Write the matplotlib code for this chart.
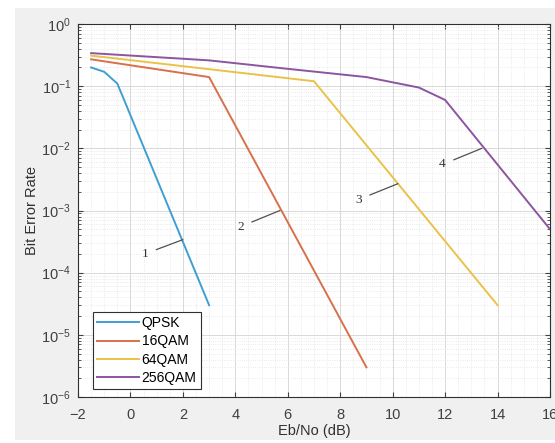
import matplotlib
matplotlib.use('Agg')
import matplotlib.pyplot as plt
from matplotlib.patches import Rectangle
from matplotlib.ticker import LogLocator, NullFormatter, MultipleLocator

# Data (Eb/No in dB, BER)
qpsk_x = [-1.5, -1.0, -0.5, 3.0]
qpsk_y = [0.20, 0.17, 0.11, 3e-5]

qam16_x = [-1.5, 3.0, 9.0]
qam16_y = [0.27, 0.14, 3e-6]

qam64_x = [-1.5, 7.0, 14.0]
qam64_y = [0.31, 0.12, 3e-5]

qam256_x = [-1.5, 3.0, 6.0, 9.0, 11.0, 12.0, 16.0]
qam256_y = [0.34, 0.26, 0.19, 0.14, 0.095, 0.06, 5e-4]

names = ['QPSK', '16QAM', '64QAM', '256QAM']
colors = ['#3f9fd3', '#d8704c', '#eac24a', '#8c55a0']

# curve labels: text, text position, point on curve
labels = ['1', '2', '3', '4']
label_text_xy = [(0.55, 2.0e-4), (4.2, 5.5e-4), (8.7, 1.5e-3), (11.9, 5.5e-3)]
label_curve_xy = [(2.0, 3.4e-4), (5.7, 1.0e-3), (10.2, 2.7e-3), (13.4, 1.0e-2)]

plt.rcParams['font.family'] = ['Liberation Sans', 'DejaVu Sans']

fig = plt.figure(figsize=(5.55, 4.43), dpi=100)
fig.patch.set_facecolor('white')
fig.patches.append(Rectangle((15 / 555, 3 / 443), 1.0, 432 / 443, transform=fig.transFigure,
                             facecolor='#f0f0f0', edgecolor='none', zorder=-10))

ax = fig.add_axes([78 / 555, 1 - 397 / 443, 472 / 555, 373 / 443])
ax.set_facecolor('white')

series = [(qpsk_x, qpsk_y), (qam16_x, qam16_y), (qam64_x, qam64_y), (qam256_x, qam256_y)]
for (xs, ys), name, c in zip(series, names, colors):
    ax.semilogy(xs, ys, color=c, linewidth=1.4, label=name)

for lab, txy, cxy in zip(labels, label_text_xy, label_curve_xy):
    ax.annotate(lab, xy=cxy, xytext=txy, fontsize=9.5, family='Liberation Serif',
                color='#333333', ha='center', va='center',
                arrowprops=dict(arrowstyle='-', color='#505050', lw=0.9,
                                shrinkA=4, shrinkB=0))

ax.set_xlim(-2, 16)
ax.set_ylim(1e-6, 1)
ax.xaxis.set_major_locator(MultipleLocator(2))
ax.yaxis.set_major_locator(LogLocator(base=10, numticks=10))
ax.yaxis.set_minor_locator(LogLocator(base=10, subs=range(2, 10), numticks=20))
ax.yaxis.set_minor_formatter(NullFormatter())
ax.xaxis.set_minor_locator(MultipleLocator(0.5))

ax.grid(True, which='major', color='#d9d9d9', linewidth=0.7)
ax.grid(True, which='minor', color='#e3e3e3', linewidth=0.6, linestyle=':')
ax.tick_params(which='both', direction='in', top=True, right=True, labelsize=10.5, colors='#404040')
ax.tick_params(axis='x', which='major', pad=8)
ax.tick_params(axis='y', which='major', pad=5)
ax.tick_params(which='minor', length=2)
ax.tick_params(axis='x', which='minor', length=0)
for s in ax.spines.values():
    s.set_color('#303030')
    s.set_linewidth(0.8)

ax.set_xlabel('Eb/No (dB)', fontsize=10.5, labelpad=1, color='#303030')
ax.set_ylabel('Bit Error Rate', fontsize=10.5, labelpad=2, color='#303030')

leg = ax.legend(loc='lower left', bbox_to_anchor=(15 / 472, 8 / 373), fontsize=10,
                fancybox=False, framealpha=1, edgecolor='#303030', handlelength=3.0,
                borderaxespad=0, labelspacing=0.3, handletextpad=0.2, borderpad=0.3)
leg.get_frame().set_linewidth(0.8)

fig.savefig('out.png', dpi=100)
